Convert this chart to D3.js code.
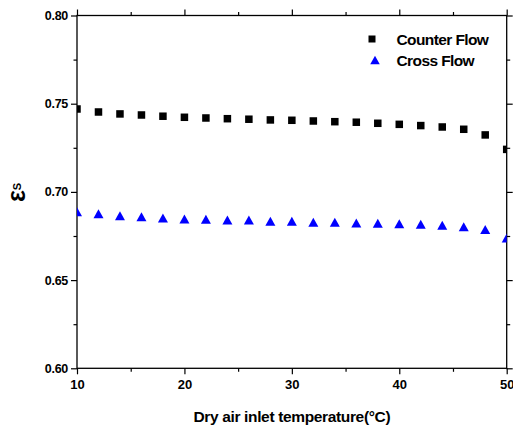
<!DOCTYPE html>
<html><head><meta charset="utf-8">
<script src="https://cdn.jsdelivr.net/npm/d3@7"></script>
<style>
html,body{margin:0;padding:0;background:#fff;}
svg{display:block;font-family:"Liberation Sans",Arial,sans-serif;}
</style></head>
<body>
<svg id="chart" width="513" height="427"></svg>
<script>
const temperatures = [10,12,14,16,18,20,22,24,26,28,30,32,34,36,38,40,42,44,46,48,50];
const counterFlow = [0.7470,0.7453,0.7442,0.7436,0.7429,0.7423,0.7419,0.7415,0.7412,0.7408,0.7406,0.7402,0.7398,0.7395,0.7389,0.7383,0.7376,0.7368,0.7355,0.7323,0.7241];
const crossFlow = [0.6888,0.6876,0.6865,0.6859,0.6852,0.6846,0.6845,0.6841,0.6840,0.6833,0.6833,0.6828,0.6828,0.6824,0.6822,0.6819,0.6816,0.6811,0.6803,0.6787,0.6739];
const seriesNames = ["Counter Flow","Cross Flow"];
const xTicks = [10,20,30,40,50];
const xMinorTicks = [15,25,35,45];
const yTicks = [0.60,0.65,0.70,0.75,0.80];
const yMinorTicks = [0.625,0.675,0.725,0.775];
const xTitle = "Dry air inlet temperature(\u00B0C)";

const svg = d3.select("#chart");
const L = 77, R = 506.7, T = 15.5, B = 368.3;
const x = d3.scaleLinear().domain([10,50]).range([L,R]);
const y = d3.scaleLinear().domain([0.60,0.80]).range([B,T]);

svg.append("defs").append("clipPath").attr("id","clip")
  .append("rect").attr("x",L).attr("y",T).attr("width",R-L).attr("height",B-T);

function styleAxis(g){
  g.select(".domain").remove();
  g.selectAll("line").attr("stroke","#000").attr("stroke-width",1.2);
}
const FF = "Liberation Sans, Arial, sans-serif";
svg.append("g").attr("transform",`translate(0,${B})`)
  .call(d3.axisBottom(x).tickValues(xTicks).tickSize(6).tickPadding(5).tickFormat(d3.format("d")))
  .call(styleAxis)
  .call(g=>g.selectAll("text").attr("font-size",13).attr("font-weight","bold").attr("fill","#000").attr("font-family",FF));
svg.append("g").attr("transform",`translate(0,${B})`)
  .call(d3.axisBottom(x).tickValues(xMinorTicks).tickSize(3.5).tickFormat(""))
  .call(styleAxis);
svg.append("g").attr("transform",`translate(0,${T})`)
  .call(d3.axisTop(x).tickValues(xTicks).tickSize(6).tickFormat(""))
  .call(styleAxis);
svg.append("g").attr("transform",`translate(0,${T})`)
  .call(d3.axisTop(x).tickValues(xMinorTicks).tickSize(3.5).tickFormat(""))
  .call(styleAxis);
svg.append("g").attr("transform",`translate(${L},0)`)
  .call(d3.axisLeft(y).tickValues(yTicks).tickSize(6).tickPadding(3).tickFormat(d3.format(".2f")))
  .call(styleAxis)
  .call(g=>g.selectAll("text").attr("font-size",12.5).attr("font-weight","bold").attr("fill","#000").attr("font-family",FF).attr("letter-spacing",-0.3));
svg.append("g").attr("transform",`translate(${L},0)`)
  .call(d3.axisLeft(y).tickValues(yMinorTicks).tickSize(3.5).tickFormat(""))
  .call(styleAxis);
svg.append("g").attr("transform",`translate(${R},0)`)
  .call(d3.axisRight(y).tickValues(yTicks).tickSize(6).tickFormat(""))
  .call(styleAxis);
svg.append("g").attr("transform",`translate(${R},0)`)
  .call(d3.axisRight(y).tickValues(yMinorTicks).tickSize(3.5).tickFormat(""))
  .call(styleAxis);

svg.append("rect").attr("x",L).attr("y",T).attr("width",R-L).attr("height",B-T)
  .attr("fill","none").attr("stroke","#000").attr("stroke-width",1.3);

const SQ = 7.5, TW = 10, TH = 9;
function triPath(cx,cy,w,h){
  return `M${cx},${cy-h/2}L${cx+w/2},${cy+h/2}L${cx-w/2},${cy+h/2}Z`;
}
const plot = svg.append("g").attr("clip-path","url(#clip)");
plot.selectAll("rect.cf").data(temperatures).join("rect").attr("class","cf")
  .attr("x",(d,i)=>x(d)-SQ/2).attr("y",(d,i)=>y(counterFlow[i])-SQ/2)
  .attr("width",SQ).attr("height",SQ).attr("fill","#000");
plot.selectAll("path.xf").data(temperatures).join("path").attr("class","xf")
  .attr("d",(d,i)=>triPath(x(d),y(crossFlow[i]),TW,TH)).attr("fill","#0000ff");

const lg = svg.append("g");
lg.append("rect").attr("x",372-3.5).attr("y",39-3.5).attr("width",7).attr("height",7).attr("fill","#000");
lg.append("path").attr("d",triPath(375,60,9.5,8.5)).attr("fill","#0000ff");
lg.append("text").attr("x",396.5).attr("y",45).attr("font-size",15.5).attr("font-weight","bold").attr("letter-spacing",-0.6).text(seriesNames[0]);
lg.append("text").attr("x",396.5).attr("y",66).attr("font-size",15.5).attr("font-weight","bold").attr("letter-spacing",-0.6).text(seriesNames[1]);

svg.append("text").attr("x",(L+R)/2).attr("y",421.5).attr("text-anchor","middle")
  .attr("font-size",15.5).attr("font-weight","bold").attr("letter-spacing",-0.35).text(xTitle);
const yl = svg.append("text").attr("transform","translate(25,202) rotate(-90)").attr("font-weight","bold");
yl.append("tspan").attr("font-size",25).text("\u03B5");
yl.append("tspan").attr("font-size",11).attr("dy",-4).text("S");
</script>
</body></html>
